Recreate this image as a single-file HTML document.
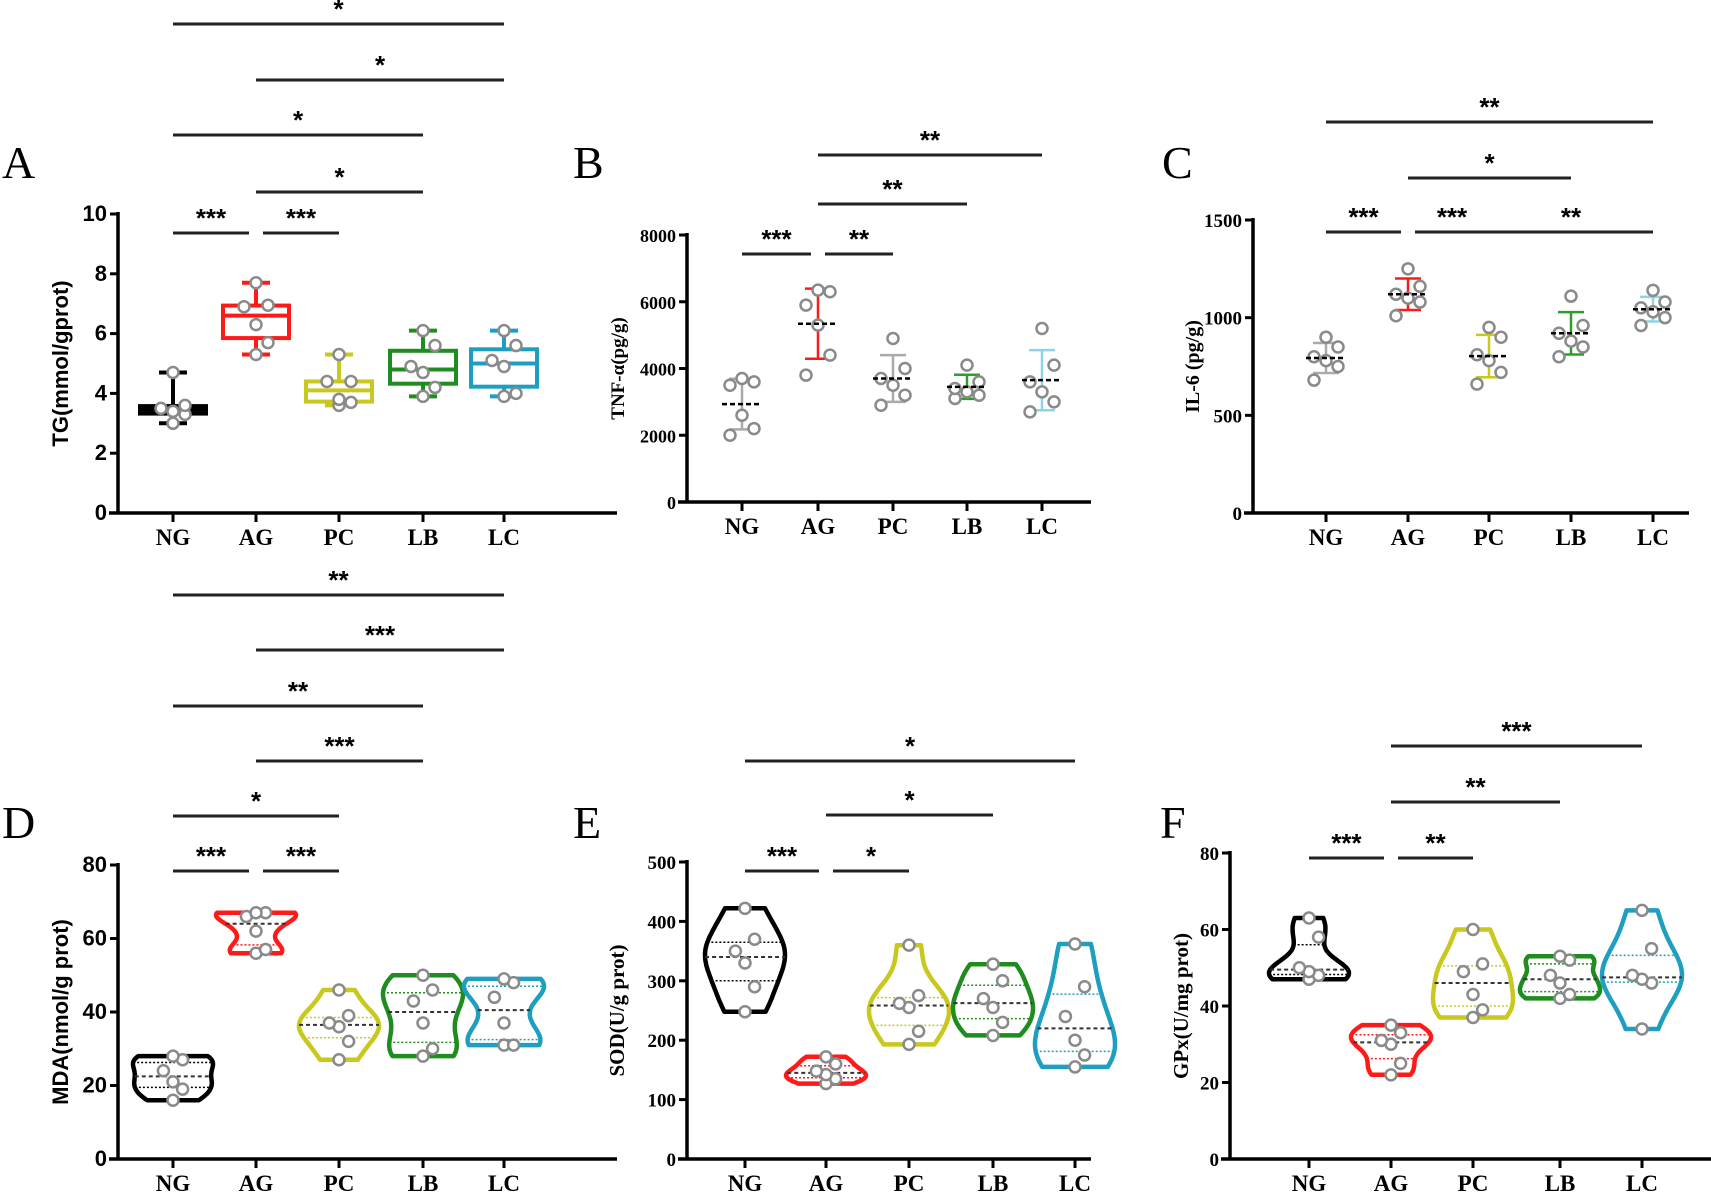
<!DOCTYPE html>
<html><head><meta charset="utf-8"><style>
html,body{margin:0;padding:0;background:#fff}
svg{display:block}
</style></head><body>
<svg id="fig" width="1711" height="1199" viewBox="0 0 1711 1199" xmlns="http://www.w3.org/2000/svg"></svg>
<script>
// ---------- data ----------
const cats=['NG','AG','PC','LB','LC'];
const tgPts=[[3.0,3.3,3.4,3.5,3.6,4.7],[5.3,5.7,6.3,6.9,6.95,7.7],[3.6,3.7,3.8,4.4,4.4,5.3],[3.9,4.2,4.7,4.9,5.6,6.1],[3.9,4.0,4.9,5.1,5.6,6.1]];
const tgTicks=[0,2,4,6,8,10];
const tnfPts=[[2000,2200,2600,3500,3600,3700],[3800,4400,5300,6300,6350,5900],[2900,3200,3500,3700,4000,4900],[3100,3200,3300,3400,3600,4100],[2700,3000,3300,3600,4100,5200]];
const tnfTicks=[0,2000,4000,6000,8000];
const il6Pts=[[680,750,780,800,850,900],[1010,1080,1100,1120,1160,1250],[660,720,780,810,900,950],[800,850,880,920,960,1110],[960,1000,1030,1050,1080,1140]];
const il6Ticks=[0,500,1000,1500];
const mdaPts=[[16,19,21,24,27,28],[56,57,62,66,67,67],[27,32,36,37,39,46],[28,30,37,43,46,50],[31,31,37,44,48,49]];
const mdaTicks=[0,20,40,60,80];
const sodPts=[[248,290,330,350,370,422],[127,135,142,148,160,172],[193,215,255,262,275,360],[208,230,255,270,300,328],[155,175,200,240,290,362]];
const sodTicks=[0,100,200,300,400,500];
const gpxPts=[[47,48,49,50,58,63],[22,25,30,31,33,35],[37,39,43,49,51,60],[42,43,46,48,52,53],[34,46,47,48,55,65]];
const gpxTicks=[0,20,40,60,80];
const colors=['#000000','#ff1a1a','#c8c81e','#1e8c1e','#1f9fc0'];
const errColA=['#aaaaaa','#ff1a1a','#aaaaaa','#2aa02a','#8fd3e8'];
const errColC=['#aaaaaa','#ff1a1a','#c8c81e','#2aa02a','#8fd3e8'];
// brackets: [fromIdx,toIdx,label]
const brA=[[0,4,'*'],[1,4,'*'],[0,3,'*'],[1,3,'*'],[0,1,'***'],[1,2,'***']];
const brB=[[1,4,'**'],[1,3,'**'],[0,1,'***'],[1,2,'**']];
const brC=[[0,4,'**'],[1,3,'*'],[0,1,'***'],[1,2,'***'],[2,4,'**']];
const brD=[[0,4,'**'],[1,4,'***'],[0,3,'**'],[1,3,'***'],[0,2,'*'],[0,1,'***'],[1,2,'***']];
const brE=[[0,4,'*'],[1,3,'*'],[0,1,'***'],[1,2,'*']];
const brF=[[1,4,'***'],[1,3,'**'],[0,1,'***'],[1,2,'**']];

// ---------- helpers ----------
const NS='http://www.w3.org/2000/svg';
const svg=document.getElementById('fig');
function add(parent,tag,attrs,name,txt){
  const el=document.createElementNS(NS,tag);
  for(const k in attrs) el.setAttribute(k,attrs[k]);
  
  
  if(txt!==undefined) el.textContent=txt;
  parent.appendChild(el);
  return el;
}
const SERIF='"Liberation Serif", serif';
const SANS='"Liberation Sans", sans-serif';

function panel(o){
  const g=add(svg,'g',{},'panel-'+o.letter.toLowerCase());
  const yS=v=>o.y0+(o.yTop-o.y0)*(v/o.yMax);
  const xS=i=>o.cx[i];
  add(g,'text',{x:o.lx,y:o.ly,'font-family':SERIF,'font-size':46},'panel-label-'+o.letter.toLowerCase(),o.letter);
  add(g,'line',{x1:o.ax,y1:o.yTop-2,x2:o.ax,y2:o.y0,stroke:'#000','stroke-width':3.5},'y-axis');
  add(g,'line',{x1:o.ax-9,y1:o.y0,x2:o.xEnd,y2:o.y0,stroke:'#000','stroke-width':3.5},'x-axis');
  o.ticks.forEach(t=>{
    add(g,'line',{x1:o.ax-8,y1:yS(t),x2:o.ax,y2:yS(t),stroke:'#000','stroke-width':3},'y-tick');
    add(g,'text',{x:o.ax-11,y:yS(t)+7,'text-anchor':'end','font-family':o.tickFont,'font-weight':'bold','font-size':o.tickSize},'y-tick-label',String(t));
  });
  cats.forEach((c,i)=>{
    add(g,'line',{x1:xS(i),y1:o.y0,x2:xS(i),y2:o.y0+9,stroke:'#000','stroke-width':3},'x-tick');
    add(g,'text',{x:xS(i),y:o.y0+32,'text-anchor':'middle','font-family':SERIF,'font-weight':'bold','font-size':23},'x-tick-label-'+c.toLowerCase(),c);
  });
  add(g,'text',{x:o.tx,y:(o.y0+o.yTop)/2,'text-anchor':'middle','font-family':o.titleFont,'font-weight':'bold','font-size':o.titleSize,transform:`rotate(-90 ${o.tx} ${(o.y0+o.yTop)/2})`},'y-axis-title',o.title);
  o.brackets.forEach((b,k)=>{
    const y=o.brY[k];
    let x1=xS(b[0]),x2=xS(b[1]);
    if(o.adj){ if(b[1]-b[0]===1){ if(b[0]===1) x1+=7; else x2-=7; } }
    add(g,'line',{x1:x1,y1:y,x2:x2,y2:y,stroke:'#222','stroke-width':3},'significance-bracket');
    add(g,'text',{x:(x1+x2)/2,y:y-6,'text-anchor':'middle','font-family':SANS,'font-weight':'bold','font-size':26},'significance-stars',b[2]);
  });
  return {g,yS,xS};
}
function dot(g,x,y){ add(g,'circle',{cx:x,cy:y,r:5.5,fill:'#fff',stroke:'#8a8a8a','stroke-width':2.5},'data-point'); }
function quart(a,p){const s=[...a].sort((x,y)=>x-y);const pos=(s.length-1)*p;const lo=Math.floor(pos),hi=Math.ceil(pos);return s[lo]+(s[hi]-s[lo])*(pos-lo);}
function offs(n){return [-12,12,0,-12,12,0].slice(0,n);}

function drawBox(P,pts){
  pts.forEach((arr,i)=>{
    const x=P.xS(i),c=colors[i],w=33;
    const mn=Math.min(...arr),mx=Math.max(...arr),q1=quart(arr,.25),q3=quart(arr,.75),md=quart(arr,.5);
    add(P.g,'line',{x1:x,y1:P.yS(mx),x2:x,y2:P.yS(q3),stroke:c,'stroke-width':4},'whisker-'+cats[i].toLowerCase());
    add(P.g,'line',{x1:x,y1:P.yS(mn),x2:x,y2:P.yS(q1),stroke:c,'stroke-width':4},'whisker-'+cats[i].toLowerCase());
    add(P.g,'line',{x1:x-14,y1:P.yS(mx),x2:x+14,y2:P.yS(mx),stroke:c,'stroke-width':4},'whisker-cap');
    add(P.g,'line',{x1:x-14,y1:P.yS(mn),x2:x+14,y2:P.yS(mn),stroke:c,'stroke-width':4},'whisker-cap');
    add(P.g,'rect',{x:x-w,y:P.yS(q3),width:2*w,height:P.yS(q1)-P.yS(q3),fill:'none',stroke:c,'stroke-width':4},'box-'+cats[i].toLowerCase());
    add(P.g,'line',{x1:x-w,y1:P.yS(md),x2:x+w,y2:P.yS(md),stroke:c,'stroke-width':4},'median-'+cats[i].toLowerCase());
    const o=offs(arr.length);
    [...arr].sort((a,b)=>a-b).forEach((v,k)=>dot(P.g,x+(k===0||k===arr.length-1?0:o[k]),P.yS(v)));
  });
}
function drawScatter(P,pts,ecol){
  pts.forEach((arr,i)=>{
    const x=P.xS(i),n=arr.length;
    const m=arr.reduce((a,b)=>a+b,0)/n;
    const sd=Math.sqrt(arr.reduce((a,b)=>a+(b-m)*(b-m),0)/(n-1));
    const c=ecol[i];
    add(P.g,'line',{x1:x,y1:P.yS(m+sd),x2:x,y2:P.yS(m-sd),stroke:c,'stroke-width':2.5},'error-bar-'+cats[i].toLowerCase());
    add(P.g,'line',{x1:x-13,y1:P.yS(m+sd),x2:x+13,y2:P.yS(m+sd),stroke:c,'stroke-width':2.5},'error-cap');
    add(P.g,'line',{x1:x-13,y1:P.yS(m-sd),x2:x+13,y2:P.yS(m-sd),stroke:c,'stroke-width':2.5},'error-cap');
    const o=offs(n);
    [...arr].sort((a,b)=>a-b).forEach((v,k)=>dot(P.g,x+o[k],P.yS(v)));
    add(P.g,'line',{x1:x-20,y1:P.yS(m),x2:x+20,y2:P.yS(m),stroke:'#000','stroke-width':2.5,'stroke-dasharray':'5,3'},'mean-line-'+cats[i].toLowerCase());
  });
}
function drawViolin(P,pts){
  pts.forEach((arr,i)=>{
    const x=P.xS(i),c=colors[i],W=40;
    const mn=Math.min(...arr),mx=Math.max(...arr),h=(mx-mn)*0.22||1;
    const dens=v=>arr.reduce((a,p)=>a+Math.exp(-(v-p)*(v-p)/(2*h*h)),0);
    const N=40,prof=[];
    for(let k=0;k<=N;k++){const v=mn+(mx-mn)*k/N;prof.push([v,dens(v)]);}
    const dm=Math.max(...prof.map(p=>p[1]));
    let d='';
    prof.forEach((p,k)=>{d+=(k?'L':'M')+(x+W*p[1]/dm).toFixed(1)+','+P.yS(p[0]).toFixed(1);});
    for(let k=N;k>=0;k--){const p=prof[k];d+='L'+(x-W*p[1]/dm).toFixed(1)+','+P.yS(p[0]).toFixed(1);}
    d+='Z';
    add(P.g,'path',{d:d,fill:'none',stroke:c,'stroke-width':4.5,'stroke-linejoin':'round'},'violin-'+cats[i].toLowerCase());
    const wAt=v=>W*dens(v)/dm;
    [[.25,'quartile'],[.75,'quartile']].forEach(q=>{const v=quart(arr,q[0]);add(P.g,'line',{x1:x-wAt(v),y1:P.yS(v),x2:x+wAt(v),y2:P.yS(v),stroke:c,'stroke-width':1.5,'stroke-dasharray':'2,2'},'quartile-line');});
    const md=quart(arr,.5);
    add(P.g,'line',{x1:x-wAt(md),y1:P.yS(md),x2:x+wAt(md),y2:P.yS(md),stroke:'#333','stroke-width':2,'stroke-dasharray':'4,3'},'median-line-'+cats[i].toLowerCase());
    const o=offs(arr.length);
    [...arr].sort((a,b)=>a-b).forEach((v,k)=>dot(P.g,x+(k===0||k===arr.length-1?0:o[k]*0.8),P.yS(v)));
  });
}

// ---------- panels ----------
const cxA=[173,256,339,423,504];
const pA=panel({letter:'A',lx:2,ly:178,ax:118,yTop:214,y0:513,yMax:10,xEnd:617,cx:cxA,ticks:tgTicks,tickFont:SANS,tickSize:22,title:'TG(mmol/gprot)',titleFont:SANS,titleSize:22,tx:68,brackets:brA,brY:[24,80,135,192,233,233],adj:true});
drawBox(pA,tgPts);
const pB=panel({letter:'B',lx:573,ly:178,ax:687,yTop:235,y0:502,yMax:8000,xEnd:1091,cx:[742,818,893,967,1042],ticks:tnfTicks,tickFont:SERIF,tickSize:18,title:'TNF-α(pg/g)',titleFont:SERIF,titleSize:19,tx:624,brackets:brB,brY:[155,204,254,254],adj:true});
drawScatter(pB,tnfPts,errColA);
const pC=panel({letter:'C',lx:1162,ly:178,ax:1253,yTop:220,y0:513,yMax:1500,xEnd:1689,cx:[1326,1408,1489,1571,1653],ticks:il6Ticks,tickFont:SERIF,tickSize:19,title:'IL-6 (pg/g)',titleFont:SERIF,titleSize:20,tx:1199,brackets:brC,brY:[122,178,232,232,232],adj:true});
drawScatter(pC,il6Pts,errColC);
const pD=panel({letter:'D',lx:2,ly:838,ax:118,yTop:865,y0:1159,yMax:80,xEnd:617,cx:cxA,ticks:mdaTicks,tickFont:SANS,tickSize:22,title:'MDA(nmol/g prot)',titleFont:SANS,titleSize:22,tx:68,brackets:brD,brY:[595,650,706,761,816,871,871],adj:true});
drawViolin(pD,mdaPts);
const pE=panel({letter:'E',lx:573,ly:838,ax:687,yTop:862,y0:1159,yMax:500,xEnd:1091,cx:[745,826,909,993,1075],ticks:sodTicks,tickFont:SERIF,tickSize:19,title:'SOD(U/g prot)',titleFont:SERIF,titleSize:21,tx:624,brackets:brE,brY:[761,815,871,871],adj:true});
drawViolin(pE,sodPts);
const pF=panel({letter:'F',lx:1160,ly:838,ax:1230,yTop:853,y0:1159,yMax:80,xEnd:1711,cx:[1309,1391,1473,1560,1642],ticks:gpxTicks,tickFont:SERIF,tickSize:19,title:'GPx(U/mg prot)',titleFont:SERIF,titleSize:21,tx:1188,brackets:brF,brY:[746,802,858,858],adj:true});
drawViolin(pF,gpxPts);
</script>
</body></html>
